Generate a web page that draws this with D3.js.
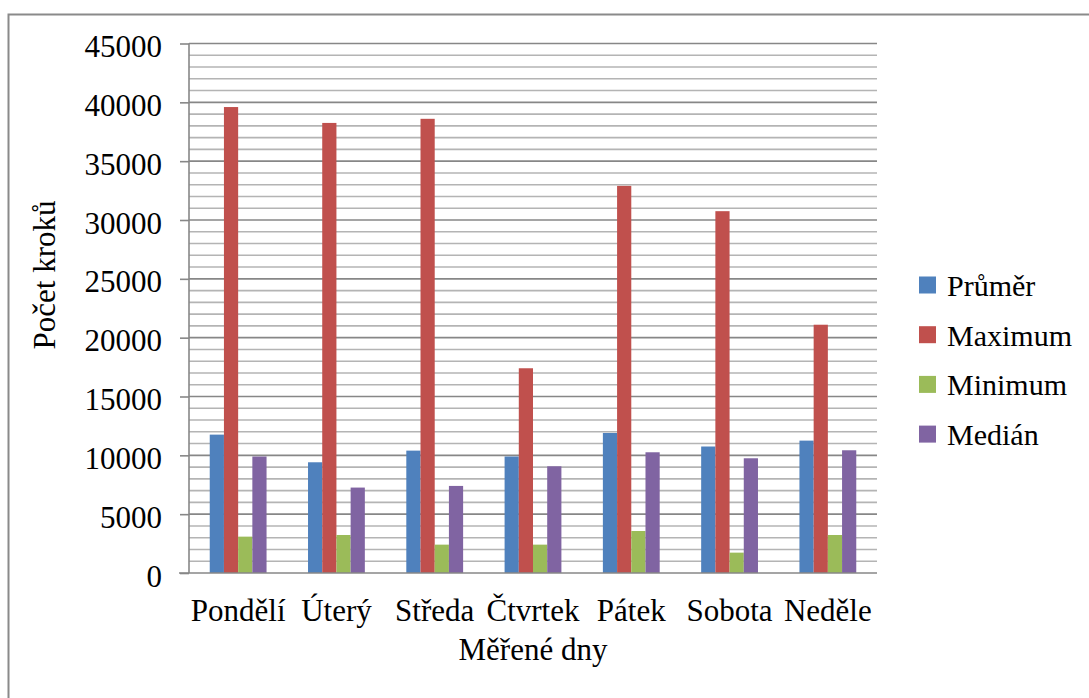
<!DOCTYPE html>
<html>
<head>
<meta charset="utf-8">
<script src="https://cdn.jsdelivr.net/npm/d3@7"></script>
</head>
<body style="margin:0;padding:0;background:#fff">
<svg id="chart" width="1089" height="698" style="display:block"></svg>
<script>
const days = ["Pondělí", "Úterý", "Středa", "Čtvrtek", "Pátek", "Sobota", "Neděle"];
const seriesNames = ["Průměr", "Maximum", "Minimum", "Medián"];
const prumer  = [11760, 9410, 10400, 9900, 11900, 10750, 11250];
const maximum = [39600, 38250, 38600, 17400, 32900, 30750, 21100];
const minimum = [3090, 3230, 2410, 2410, 3570, 1730, 3230];
const median  = [9900, 7260, 7400, 9070, 10260, 9750, 10430];
const yTicks = [0, 5000, 10000, 15000, 20000, 25000, 30000, 35000, 40000, 45000];
const xTitle = "Měřené dny";
const yTitle = "Počet kroků";

(function () {
const FONT = "'Liberation Serif'";
const seriesValues = [prumer, maximum, minimum, median];
const colors = ["#4F81BD", "#C0504D", "#9BBB59", "#8064A2"];

const svg = d3.select("#chart");
const pLeft = 189, pRight = 877, pTop = 43.5, pBottom = 573;

// outer border
svg.append("rect")
  .attr("x", 8.5).attr("y", 14.5)
  .attr("width", 1200).attr("height", 800)
  .attr("fill", "none").attr("stroke", "#8a8a8a").attr("stroke-width", 2);

const y = d3.scaleLinear().domain([0, 45000]).range([pBottom, pTop]);
const x0 = d3.scaleBand().domain(days).range([pLeft, pRight]).padding(0);
const x1 = d3.scaleBand().domain(seriesNames).range([0, x0.bandwidth()]).paddingInner(0).paddingOuter(1.46);

// minor gridlines
const minor = d3.range(1000, 45001, 1000).filter(v => v % 5000 !== 0);
svg.append("g").selectAll("line").data(minor).join("line")
  .attr("x1", pLeft).attr("x2", pRight)
  .attr("y1", d => y(d)).attr("y2", d => y(d))
  .attr("stroke", "#b4b4b4").attr("stroke-width", 1.6);

// major gridlines
svg.append("g").selectAll("line").data(yTicks.filter(v => v > 0)).join("line")
  .attr("x1", pLeft).attr("x2", pRight)
  .attr("y1", d => y(d)).attr("y2", d => y(d))
  .attr("stroke", "#878787").attr("stroke-width", 1.6);

// bars
const rows = days.map((d, i) => ({ day: d, vals: seriesNames.map((s, j) => ({ s, j, v: seriesValues[j][i] })) }));
const groups = svg.append("g").selectAll("g").data(rows).join("g")
  .attr("transform", d => `translate(${x0(d.day)},0)`);
groups.selectAll("rect").data(d => d.vals).join("rect")
  .attr("x", d => x1(d.s))
  .attr("width", x1.bandwidth())
  .attr("y", d => y(d.v))
  .attr("height", d => pBottom - y(d.v))
  .attr("fill", d => colors[d.j]);

// y axis
const yAxis = d3.axisLeft(y).tickValues(yTicks).tickSize(9).tickFormat(d3.format("d")).tickPadding(18);
const yg = svg.append("g").attr("transform", `translate(${pLeft},0)`).call(yAxis)
  .attr("font-family", null).attr("font-size", null);
yg.select(".domain").attr("stroke", "#878787").attr("stroke-width", 1.6).attr("d", `M0,${pTop}V${pBottom}`);
yg.selectAll(".tick line").attr("stroke", "#878787").attr("stroke-width", 1.6);
yg.selectAll(".tick text")
  .style("font-family", FONT).style("font-size", "31px").attr("fill", "#000")
  .attr("dy", "0.42em");

// x axis baseline
const xAxis = d3.axisBottom(x0).tickSize(0).tickPadding(26);
const xg = svg.append("g").attr("transform", `translate(0,${pBottom})`).call(xAxis)
  .attr("font-family", null).attr("font-size", null);
xg.select(".domain").attr("stroke", "#878787").attr("stroke-width", 1.6).attr("d", `M${pLeft - 10},0H${pRight}`);
xg.selectAll(".tick text")
  .style("font-family", FONT).style("font-size", "31px").attr("fill", "#000")
  .attr("dy", "0.71em");

// axis titles
svg.append("text").attr("x", (pLeft + pRight) / 2).attr("y", 660)
  .attr("text-anchor", "middle").style("font-family", FONT).style("font-size", "31px").attr("fill", "#000").text(xTitle);
svg.append("text").attr("transform", "translate(55,275) rotate(-90)")
  .attr("text-anchor", "middle").style("font-family", FONT).style("font-size", "31px").attr("fill", "#000").text(yTitle);

// legend
const legend = svg.append("g").selectAll("g").data(seriesNames).join("g")
  .attr("transform", (d, i) => `translate(919,${285 + i * 49.7})`);
legend.append("rect").attr("x", 0).attr("y", -8.5).attr("width", 17).attr("height", 17)
  .attr("fill", (d, i) => colors[i]);
legend.append("text").attr("x", 28).attr("y", 11)
  .style("font-family", FONT).style("font-size", "30px").attr("fill", "#000").text(d => d);
})();
</script>
</body>
</html>
